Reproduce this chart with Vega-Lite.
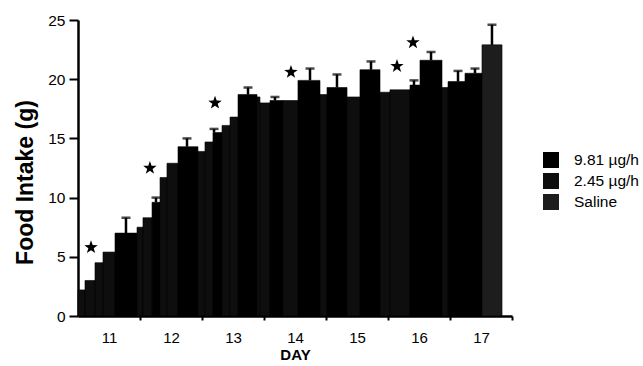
{
  "$schema": "https://vega.github.io/schema/vega-lite/v6.json",
  "width": 434,
  "height": 296,
  "autosize": {"type": "none"},
  "padding": {"left": 78, "top": 20, "right": 131, "bottom": 50},
  "background": "white",
  "config": {
    "view": {"stroke": null},
    "font": "Liberation Sans",
    "axis": {"grid": false, "domainColor": "black", "tickColor": "black", "labelColor": "black", "titleColor": "black", "domainWidth": 2.5, "tickWidth": 2}
  },
  "datasets": {
    "bars": [
      {"t0": 10.5, "t1": 10.613, "v": 2.2, "g": "2.45 µg/h"},
      {"t0": 10.613, "t1": 10.774, "v": 3.0, "g": "2.45 µg/h"},
      {"t0": 10.774, "t1": 10.903, "v": 4.5, "g": "2.45 µg/h"},
      {"t0": 10.903, "t1": 11.097, "v": 5.4, "g": "2.45 µg/h"},
      {"t0": 11.097, "t1": 11.452, "v": 7.0, "g": "9.81 µg/h"},
      {"t0": 11.452, "t1": 11.548, "v": 7.5, "g": "2.45 µg/h"},
      {"t0": 11.548, "t1": 11.694, "v": 8.3, "g": "2.45 µg/h"},
      {"t0": 11.694, "t1": 11.823, "v": 9.6, "g": "9.81 µg/h"},
      {"t0": 11.823, "t1": 11.935, "v": 11.7, "g": "2.45 µg/h"},
      {"t0": 11.935, "t1": 12.113, "v": 12.9, "g": "2.45 µg/h"},
      {"t0": 12.113, "t1": 12.435, "v": 14.3, "g": "9.81 µg/h"},
      {"t0": 12.435, "t1": 12.548, "v": 13.9, "g": "2.45 µg/h"},
      {"t0": 12.548, "t1": 12.677, "v": 14.7, "g": "2.45 µg/h"},
      {"t0": 12.677, "t1": 12.823, "v": 15.5, "g": "9.81 µg/h"},
      {"t0": 12.823, "t1": 12.952, "v": 16.1, "g": "2.45 µg/h"},
      {"t0": 12.952, "t1": 13.081, "v": 16.8, "g": "2.45 µg/h"},
      {"t0": 13.081, "t1": 13.387, "v": 18.7, "g": "9.81 µg/h"},
      {"t0": 13.387, "t1": 13.435, "v": 18.5, "g": "2.45 µg/h"},
      {"t0": 13.435, "t1": 13.597, "v": 18.0, "g": "2.45 µg/h"},
      {"t0": 13.597, "t1": 13.806, "v": 18.2, "g": "9.81 µg/h"},
      {"t0": 13.806, "t1": 14.048, "v": 18.2, "g": "2.45 µg/h"},
      {"t0": 14.048, "t1": 14.403, "v": 19.9, "g": "9.81 µg/h"},
      {"t0": 14.403, "t1": 14.516, "v": 18.7, "g": "2.45 µg/h"},
      {"t0": 14.516, "t1": 14.839, "v": 19.3, "g": "9.81 µg/h"},
      {"t0": 14.839, "t1": 15.048, "v": 18.5, "g": "2.45 µg/h"},
      {"t0": 15.048, "t1": 15.371, "v": 20.8, "g": "9.81 µg/h"},
      {"t0": 15.371, "t1": 15.532, "v": 18.9, "g": "2.45 µg/h"},
      {"t0": 15.532, "t1": 15.855, "v": 19.1, "g": "2.45 µg/h"},
      {"t0": 15.855, "t1": 16.016, "v": 19.5, "g": "9.81 µg/h"},
      {"t0": 16.016, "t1": 16.371, "v": 21.6, "g": "9.81 µg/h"},
      {"t0": 16.371, "t1": 16.468, "v": 19.3, "g": "2.45 µg/h"},
      {"t0": 16.468, "t1": 16.742, "v": 19.8, "g": "9.81 µg/h"},
      {"t0": 16.742, "t1": 17.016, "v": 20.5, "g": "9.81 µg/h"},
      {"t0": 17.016, "t1": 17.339, "v": 22.9, "g": "Saline"}
    ],
    "errs": [
      {"t": 11.274, "v": 7.0, "hi": 8.3},
      {"t": 11.758, "v": 9.6, "hi": 10.0},
      {"t": 12.258, "v": 14.3, "hi": 15.0},
      {"t": 12.694, "v": 15.5, "hi": 15.8},
      {"t": 13.242, "v": 18.7, "hi": 19.3},
      {"t": 13.677, "v": 18.2, "hi": 18.5},
      {"t": 14.242, "v": 19.9, "hi": 20.9},
      {"t": 14.677, "v": 19.3, "hi": 20.4},
      {"t": 15.226, "v": 20.8, "hi": 21.5},
      {"t": 15.919, "v": 19.5, "hi": 19.9},
      {"t": 16.194, "v": 21.6, "hi": 22.3},
      {"t": 16.629, "v": 19.8, "hi": 20.7},
      {"t": 16.903, "v": 20.5, "hi": 20.9},
      {"t": 17.177, "v": 22.9, "hi": 24.6}
    ],
    "stars": [
      {"t": 10.71, "y": 5.8},
      {"t": 11.66, "y": 12.5},
      {"t": 12.71, "y": 18.0},
      {"t": 13.935, "y": 20.6},
      {"t": 15.645, "y": 21.1},
      {"t": 15.903, "y": 23.1}
    ]
  },
  "layer": [
    {
      "data": {"name": "bars"},
      "mark": {"type": "bar", "stroke": "black", "strokeWidth": 0.6},
      "encoding": {
        "x": {"field": "t0", "type": "quantitative", "scale": {"domain": [10.5, 17.5], "nice": false, "zero": false},
              "axis": {"orient": "bottom", "values": [11, 12, 13, 14, 15, 16, 17], "format": "d",
                       "tickOffset": 31, "labelOffset": -31, "tickSize": 4,
                       "labelPadding": 10, "labelFontSize": 15, "labelFlush": false, "labelOverlap": false,
                       "title": "DAY", "titleFontSize": 15, "titleFontWeight": "bold", "titlePadding": 2}},
        "x2": {"field": "t1"},
        "y": {"field": "v", "type": "quantitative", "scale": {"domain": [0, 25], "nice": false},
              "axis": {"orient": "left", "values": [0, 2.5, 5, 7.5, 10, 12.5, 15, 17.5, 20, 22.5, 25],
                       "labelExpr": "datum.value % 5 === 0 ? datum.label : ''",
                       "tickSize": {"condition": {"test": "datum.value % 5 === 0", "value": 9}, "value": 4},
                       "labelPadding": 4, "labelFontSize": 15.5, "labelFlush": false, "labelOverlap": false,
                       "title": "Food Intake (g)", "titleFontSize": 23, "titleFontWeight": "bold",
                       "titleX": -53, "titleY": 162, "titleAngle": 270, "titleBaseline": "middle", "titleAlign": "center"}},
        "y2": {"datum": 0},
        "color": {"field": "g", "type": "nominal",
                  "scale": {"domain": ["9.81 µg/h", "2.45 µg/h", "Saline"], "range": ["#000000", "#0e0e0e", "#1d1d1d"]},
                  "legend": {"orient": "none", "legendX": 465, "legendY": 132, "title": null, "symbolType": "square", "symbolSize": 256, "symbolStrokeWidth": 0, "labelFontSize": 15.5, "labelOffset": 15, "rowPadding": 4, "padding": 0, "labelColor": "black"}}
      }
    },
    {
      "data": {"name": "errs"},
      "mark": {"type": "rule", "color": "black", "strokeWidth": 2.5},
      "encoding": {
        "x": {"field": "t", "type": "quantitative"},
        "y": {"field": "v", "type": "quantitative"},
        "y2": {"field": "hi"}
      }
    },
    {
      "data": {"name": "errs"},
      "mark": {"type": "tick", "orient": "horizontal", "color": "black", "size": 9, "thickness": 2.5},
      "encoding": {
        "x": {"field": "t", "type": "quantitative"},
        "y": {"field": "hi", "type": "quantitative"}
      }
    },
    {
      "data": {"name": "stars"},
      "mark": {"type": "point", "shape": "M0,-1L0.235,-0.324L0.951,-0.309L0.38,0.124L0.588,0.809L0,0.4L-0.588,0.809L-0.38,0.124L-0.951,-0.309L-0.235,-0.324Z", "filled": true, "color": "black", "size": 200, "opacity": 1},
      "encoding": {
        "x": {"field": "t", "type": "quantitative"},
        "y": {"field": "y", "type": "quantitative"}
      }
    }
  ]
}
